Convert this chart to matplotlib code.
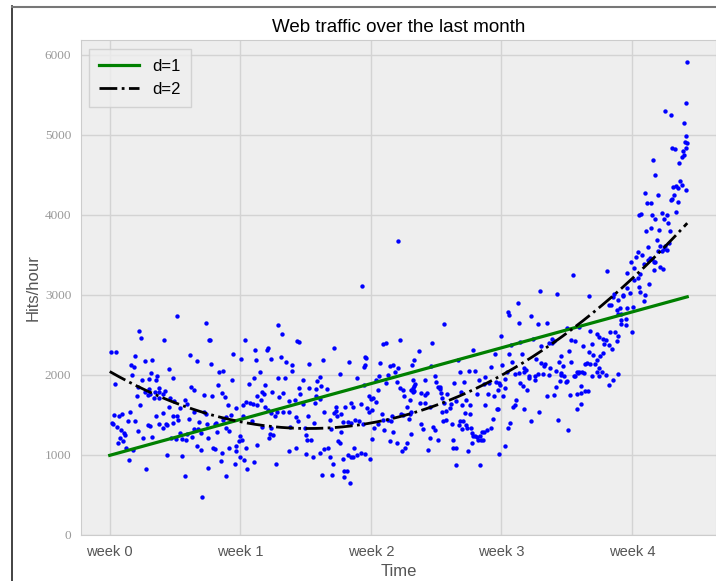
import numpy as np
import matplotlib
matplotlib.use("Agg")
import matplotlib.pyplot as plt
from matplotlib.lines import Line2D

# (hour, hits) pairs, one list per stretch of the month
wk0 = [(87, 2740), (38, 2550), (40, 2460), (124, 2650), (70, 2440), (128, 2440), (1, 2280), (8, 2290),
       (32, 2240), (103, 2250), (46, 2170), (55, 2180), (27, 2120), (31, 2100), (112, 2170), (76, 2070),
       (53, 2020), (29, 2000), (61, 1980), (81, 1960), (41, 1940), (51, 1950), (59, 1930), (7, 1890),
       (105, 1850), (37, 1850), (51, 1820), (63, 1830), (45, 1780), (52, 1760), (58, 1780), (64, 1790),
       (71, 1800), (68, 1760), (77, 1710), (83, 1670), (64, 1710), (57, 1710), (35, 1730), (49, 1750),
       (39, 1620), (97, 1680), (100, 1640), (91, 1580), (109, 1810), (121, 1750), (5, 1500), (12, 1490),
       (16, 1510), (26, 1540), (24, 1420), (33, 1420), (3, 1400), (4, 1380), (9, 1350), (15, 1310),
       (18, 1270), (20, 1250), (13, 1210), (11, 1150), (17, 1170), (21, 1080), (30, 1060), (36, 1300),
       (43, 1210), (49, 1370), (52, 1360), (55, 1220), (59, 1490), (63, 1380), (69, 1330), (72, 1380),
       (74, 1370), (69, 1520), (76, 1600), (81, 1490), (86, 1490), (82, 1400), (88, 1430), (91, 1270),
       (93, 1200), (85, 1200), (79, 1210), (98, 1180), (100, 1260), (106, 1220), (102, 1450), (109, 1530),
       (115, 1410), (108, 1320), (114, 1320), (121, 1540), (124, 1510), (118, 1270), (125, 1380), (112, 1110),
       (117, 1060), (127, 1210), (74, 1000), (93, 990), (25, 940), (47, 820), (97, 740), (127, 840),
       (119, 480)]

wk1 = [(216, 2620), (222, 2510), (241, 2420), (243, 2410), (174, 2440), (187, 2310), (202, 2310), (204, 2340),
       (158, 2260), (169, 2200), (188, 2180), (207, 2200), (220, 2220), (227, 2160), (235, 2120), (256, 2140),
       (274, 2180), (234, 2050), (193, 2040), (141, 2030), (146, 2050), (130, 2130), (129, 2440), (157, 1940),
       (186, 1960), (217, 1960), (226, 1960), (249, 1940), (271, 1970), (267, 1920), (139, 1870), (179, 1880),
       (200, 1870), (144, 1770), (131, 1740), (148, 1720), (196, 1780), (198, 1760), (190, 1740), (209, 1790),
       (223, 1770), (218, 1720), (243, 1840), (245, 1760), (257, 1840), (266, 1820), (272, 1860), (265, 1730),
       (271, 1700), (279, 1820), (152, 1620), (175, 1660), (180, 1650), (184, 1630), (190, 1620), (200, 1600),
       (194, 1690), (230, 1670), (238, 1680), (249, 1640), (264, 1650), (230, 1530), (223, 1540), (215, 1530),
       (212, 1480), (204, 1560), (208, 1520), (162, 1580), (171, 1620), (156, 1500), (146, 1440), (150, 1470),
       (137, 1400), (135, 1390), (171, 1490), (183, 1420), (196, 1350), (207, 1340), (206, 1260), (232, 1350),
       (240, 1470), (242, 1420), (251, 1330), (255, 1490), (263, 1400), (276, 1530), (150, 1340), (154, 1300),
       (138, 1280), (167, 1240), (170, 1190), (166, 1170), (162, 1110), (163, 1050), (175, 1090), (153, 1080),
       (145, 1020), (136, 1070), (133, 1080), (210, 1250), (205, 1210), (189, 1120), (173, 940), (167, 970),
       (161, 890), (143, 930), (185, 910), (177, 830), (149, 740), (214, 890), (231, 1050), (239, 1080),
       (253, 1010), (259, 1180), (254, 1180), (262, 980), (270, 1020), (276, 1070), (281, 1090), (273, 750),
       (252, 1250)]

wk2 = [(371, 3670), (325, 3110), (289, 2330), (308, 2160), (296, 2010), (318, 1960), (327, 2100), (329, 2120),
       (328, 2220), (330, 2210), (348, 2150), (352, 2390), (356, 2400), (373, 2440), (360, 2110), (365, 2120),
       (371, 2090), (358, 2000), (367, 2030), (346, 1990), (327, 1870), (342, 1930), (345, 1810), (355, 1900),
       (369, 1910), (373, 1840), (377, 1810), (398, 2300), (392, 2190), (389, 2120), (414, 2400), (413, 2110),
       (390, 1940), (393, 1890), (392, 1860), (390, 1840), (388, 1810), (406, 1930), (418, 1990), (420, 1910),
       (422, 1850), (408, 1770), (406, 1750), (400, 1770), (390, 1780), (392, 1800), (386, 1690), (379, 1730),
       (383, 1600), (399, 1650), (405, 1650), (412, 1600), (387, 1530), (377, 1500), (375, 1510), (385, 1450),
       (386, 1510), (334, 1740), (336, 1700), (339, 1710), (342, 1660), (331, 1580), (337, 1560), (334, 1530),
       (323, 1640), (310, 1650), (313, 1600), (303, 1600), (291, 1600), (291, 1550), (288, 1520), (292, 1490),
       (298, 1510), (284, 1430), (285, 1320), (298, 1290), (300, 1410), (307, 1410), (310, 1400), (315, 1430),
       (321, 1420), (326, 1390), (340, 1340), (352, 1430), (358, 1440), (362, 1420), (363, 1480), (350, 1510),
       (345, 1380), (353, 1310), (365, 1290), (360, 1170), (369, 1150), (382, 1150), (380, 1090), (376, 1050),
       (387, 1260), (400, 1380), (403, 1320), (416, 1350), (418, 1310), (412, 1210), (422, 1180), (409, 1060),
       (338, 1200), (294, 1170), (296, 1150), (284, 970), (287, 890), (286, 750), (300, 950), (306, 1000),
       (310, 980), (313, 980), (314, 1080), (318, 1000), (323, 1030), (328, 1010), (335, 950), (301, 800),
       (305, 800), (302, 720), (309, 650)]

wk3 = [(554, 3050), (525, 2900), (512, 2790), (514, 2750), (542, 2740), (526, 2650), (551, 2630), (563, 2650),
       (430, 2640), (503, 2480), (468, 2310), (528, 2410), (545, 2450), (555, 2360), (565, 2400), (516, 2370),
       (514, 2260), (530, 2260), (496, 2260), (448, 2180), (491, 2100), (505, 2120), (518, 2160), (548, 2200),
       (555, 2150), (560, 2140), (559, 2110), (533, 2090), (536, 2060), (533, 2040), (521, 2010), (527, 2020),
       (511, 2030), (462, 2050), (470, 2050), (451, 2030), (551, 2010), (558, 2010), (565, 2000), (539, 1990),
       (539, 1960), (547, 1990), (547, 1930), (528, 1900), (532, 1860), (537, 1810), (508, 1950), (501, 1900),
       (502, 1870), (508, 1830), (506, 1740), (500, 1810), (497, 1910), (488, 1900), (482, 1890), (483, 1970),
       (475, 1930), (456, 1910), (443, 1900), (425, 1850), (425, 1820), (426, 1770), (434, 1760), (427, 1710),
       (430, 1650), (452, 1790), (458, 1690), (473, 1760), (487, 1760), (494, 1740), (523, 1680), (521, 1620),
       (519, 1600), (533, 1570), (552, 1540), (562, 1740), (439, 1630), (438, 1580), (427, 1530), (433, 1550),
       (445, 1670), (453, 1620), (464, 1620), (457, 1520), (463, 1510), (483, 1620), (498, 1570), (499, 1570),
       (493, 1450), (515, 1400), (513, 1330), (542, 1420), (429, 1420), (433, 1440), (440, 1390), (450, 1420),
       (454, 1420), (449, 1370), (453, 1320), (459, 1370), (460, 1330), (465, 1340), (466, 1270), (470, 1240),
       (472, 1220), (468, 1230), (476, 1240), (479, 1280), (481, 1280), (486, 1310), (490, 1330), (441, 1180),
       (474, 1190), (478, 1180), (480, 1180), (466, 1150), (442, 1080), (445, 1080), (461, 1050), (501, 1010),
       (509, 1110), (446, 880), (476, 870)]

wk4a = [(681, 4000), (680, 3540), (677, 3470), (670, 3410), (675, 3340), (666, 3270), (640, 3300), (596, 3250),
        (680, 3210), (674, 3190), (681, 3100), (665, 3080), (669, 3020), (660, 3000), (649, 3010), (647, 2970),
        (654, 2940), (660, 2990), (617, 2980), (576, 3010), (642, 2870), (645, 2870), (657, 2830), (652, 2810),
        (654, 2760), (658, 2760), (665, 2840), (673, 2850), (664, 2700), (658, 2680), (658, 2640), (664, 2620),
        (650, 2540), (644, 2540), (654, 2490), (672, 2530), (646, 2320), (653, 2420), (639, 2430), (634, 2450),
        (636, 2390), (642, 2370), (618, 2550), (627, 2510), (630, 2470), (604, 2600), (588, 2580), (598, 2420),
        (593, 2430), (609, 2360), (621, 2380), (616, 2290), (622, 2250), (634, 2270), (631, 2230), (627, 2190),
        (629, 2090), (633, 2040), (627, 2030), (624, 2130), (618, 2130), (614, 2150), (612, 2140), (610, 2020),
        (607, 2030), (602, 2020), (599, 1990), (601, 2030), (604, 2040), (620, 1980), (630, 1980), (639, 2000),
        (654, 2010), (648, 1940), (642, 1870), (593, 2160), (591, 2300), (581, 2230), (583, 2110), (578, 2160),
        (574, 2050), (566, 2080), (569, 2400), (571, 2420), (569, 2450), (585, 1980), (597, 1980), (588, 1920),
        (587, 1910), (581, 2000), (580, 2020), (579, 1920), (574, 1850), (606, 1860), (601, 1760), (606, 1770),
        (612, 1800), (615, 1800), (572, 1750), (592, 1750), (601, 1570), (606, 1630), (577, 1440), (589, 1310)]

wk4b = [(743, 5910), (742, 5400), (715, 5300), (722, 5250), (739, 5150), (741, 4980), (740, 4910), (743, 4890),
        (742, 4830), (738, 4800), (736, 4720), (739, 4750), (724, 4830), (727, 4820), (733, 4640), (699, 4680),
        (702, 4500), (734, 4420), (736, 4370), (731, 4330), (729, 4360), (725, 4350), (741, 4310), (726, 4240),
        (722, 4180), (724, 4200), (731, 4160), (689, 4270), (706, 4240), (691, 4150), (697, 4150), (684, 4010),
        (698, 4000), (710, 4020), (717, 3990), (728, 4030), (701, 3940), (713, 3940), (718, 3900), (697, 3830),
        (690, 3790), (707, 3810), (721, 3800), (692, 3600), (704, 3680), (708, 3610), (713, 3570), (717, 3560),
        (711, 3550), (715, 3610), (719, 3640), (705, 3550), (702, 3410), (698, 3450), (695, 3460), (700, 3410),
        (708, 3350), (712, 3320), (685, 3500), (700, 3310), (694, 3130), (682, 3260), (689, 3000), (687, 2920),
        (687, 3390), (693, 3440), (682, 3030)]

week_ticks = [0, 168, 336, 504, 672]
week_labels = ["week %i" % w for w in range(5)]

pts = np.array(wk0 + wk1 + wk2 + wk3 + wk4a + wk4b, dtype=float)
x, y = pts[:, 0], pts[:, 1]

plt.figure(figsize=(7.16, 5.81), dpi=100)
ax = plt.axes([0.1131, 0.0792, 0.8869, 0.8511])
ax.set_facecolor("#EEEEEE")
for s in ax.spines.values():
    s.set_color("#CCCCCC")

ax.scatter(x, y, s=10, c="#0000FF", linewidths=0, zorder=3)

fx = np.linspace(0, x.max(), 1000)
styles = {1: dict(color="green", ls="-", lw=2.3), 2: dict(color="black", ls="-.", lw=2)}
for d in (1, 2):
    f = np.poly1d(np.polyfit(x, y, d))
    ax.plot(fx, f(fx), label="d=%i" % d, zorder=4, **styles[d])

ax.set_xlim(-37, 780)
ax.set_ylim(0, 6175)
ax.set_xticks(week_ticks)
ax.set_xticklabels(week_labels, family="Liberation Sans", fontsize=10.5, color="#555555")
ax.set_yticks(range(0, 7000, 1000))
ax.set_yticklabels([str(v) for v in range(0, 7000, 1000)], family="Liberation Serif",
                   fontsize=9.5, color="#999999")
ax.tick_params(length=0, pad=7)
ax.grid(True, color="#D3D3D3", lw=1)
ax.set_axisbelow(True)

ax.set_title("Web traffic over the last month", family="Liberation Sans", fontsize=13.5, pad=6)
ax.set_xlabel("Time", family="Liberation Sans", fontsize=12, color="#555555", labelpad=4)
ax.set_ylabel("Hits/hour", family="Liberation Sans", fontsize=12, color="#555555", labelpad=3)

leg = ax.legend(loc="upper left", prop={"family": "Liberation Sans", "size": 12},
                facecolor="#EEEEEE", edgecolor="#CCCCCC", fancybox=False, handlelength=2.4,
                borderpad=0.6)

fig = plt.gcf()
fig.add_artist(Line2D([11.5 / 716, 11.5 / 716], [0, 1 - 6 / 581], color="#222222", lw=1.2))
fig.add_artist(Line2D([11.5 / 716, 1], [1 - 6.5 / 581, 1 - 6.5 / 581], color="#777777", lw=1.5))

plt.savefig("out.png", dpi=100)
